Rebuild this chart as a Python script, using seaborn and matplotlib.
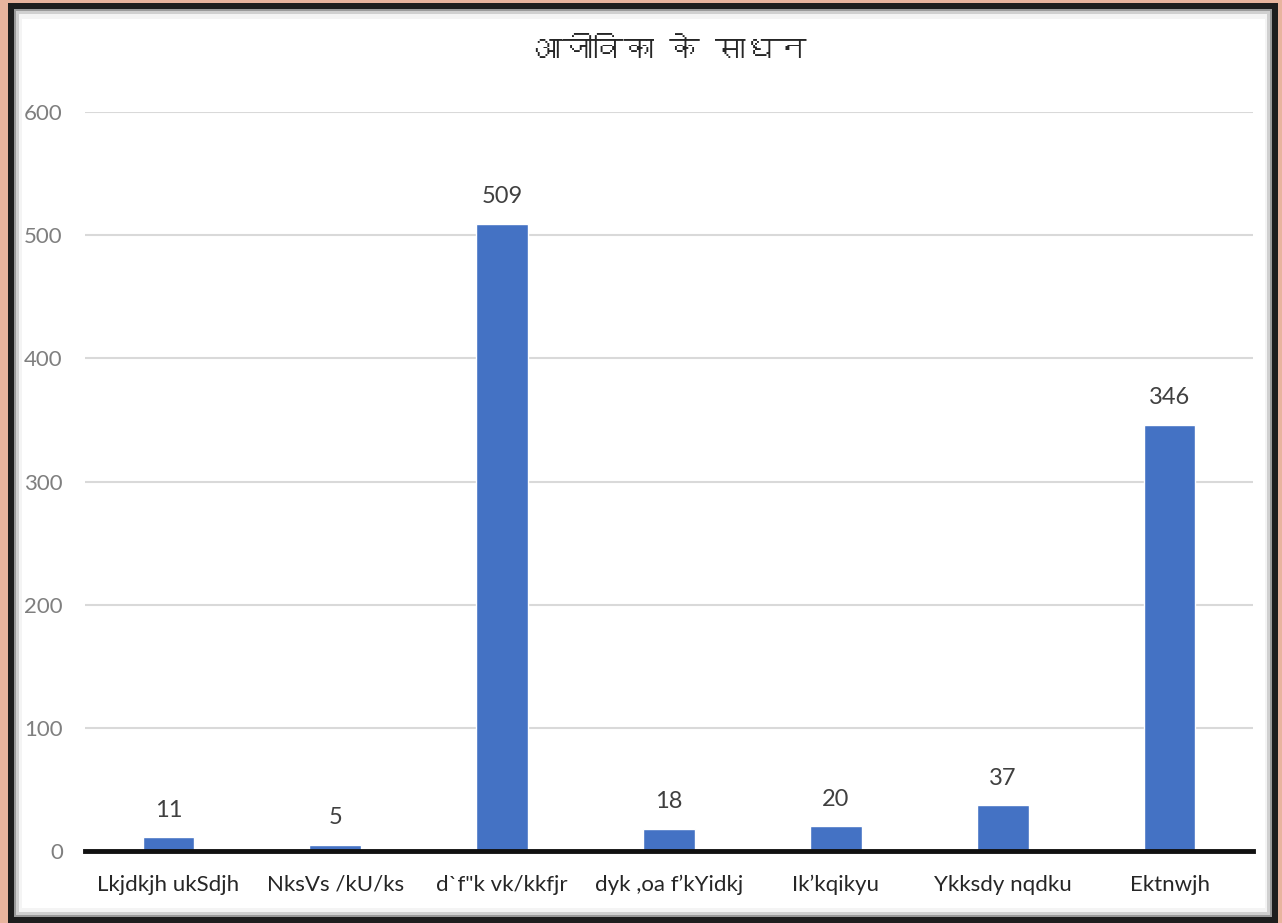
import matplotlib
matplotlib.use("Agg")
import matplotlib.pyplot as plt
from matplotlib import font_manager
from matplotlib.patches import Rectangle
import seaborn as sns
import pandas as pd

categories = ["Lkjdkjh ukSdjh", "NksVs /kU/ks", "d`f\"k vk/kkfjr", "dyk ,oa f\u2019kYidkj",
              "Ik\u2019kqikyu", "Ykksdy nqdku", "Ektnwjh"]
values = [11, 5, 509, 18, 20, 37, 346]
yticks = [0, 100, 200, 300, 400, 500, 600]
title = "आजीविका के साधन"

sns.set_theme(style="white")

# find a font with Devanagari glyphs
deva_family = None
try:
    from matplotlib.ft2font import FT2Font
    for f in font_manager.fontManager.ttflist:
        try:
            ft = FT2Font(f.fname)
            cm = ft.get_charmap()
            if 0x0906 in cm and 0x0927 in cm:
                deva_family = f.name
                break
        except Exception:
            pass
except Exception:
    pass

base = "Lato"
plt.rcParams['font.family'] = [base, 'DejaVu Sans']

fig = plt.figure(figsize=(12.82, 9.23), dpi=100)
fig.patch.set_facecolor("#E8B49E")
W, H = 1282, 923
def px(x, y, w, h):
    return (x / W, 1 - (y + h) / H, w / W, h / H)
for (x, y, w, h, c) in [(8, 3, 1270, 920, "#1e1e1e"),
                        (14, 9, 1258, 908, "#9a9a9a"),
                        (16, 11, 1254, 904, "#d0d0d0"),
                        (19, 14, 1248, 898, "#f4f4f4"),
                        (22, 19, 1243, 889, "#ffffff")]:
    l, b, ww, hh = px(x, y, w, h)
    fig.add_artist(Rectangle((l, b), ww, hh, transform=fig.transFigure,
                             facecolor=c, edgecolor="none", zorder=-10))

ax = fig.add_axes([85 / W, 1 - 851 / H, (1253 - 85) / W, (851 - 112) / H])
ax.set_facecolor("none")
df = pd.DataFrame({"cat": categories, "val": values})
sns.barplot(data=df, x="cat", y="val", color="#4472C4", width=0.31, ax=ax,
            saturation=1, zorder=3)
ax.set_xlim(-0.5, len(categories) - 0.5)
ax.set_ylim(0, 600)
ax.set_yticks(yticks)
ax.set_yticklabels([str(t) for t in yticks])
ax.set_xlabel("")
ax.set_ylabel("")
ax.yaxis.grid(True, color="#d9d9d9", linewidth=1.5, zorder=0)
ax.xaxis.grid(False)
for s in ["top", "right", "left"]:
    ax.spines[s].set_visible(False)
ax.spines["bottom"].set_color("#111111")
ax.spines["bottom"].set_linewidth(3.5)
ax.spines["bottom"].set_zorder(5)
ax.tick_params(axis="y", length=0, pad=16, labelsize=16, labelcolor="#7f7f7f")
ax.tick_params(axis="x", length=0, pad=17, labelsize=16, labelcolor="#262626")
for c in ax.containers:
    ax.bar_label(c, labels=[str(v) for v in values], padding=12, fontsize=17,
                 color="#404040")

tfam = [deva_family, base, 'DejaVu Sans'] if deva_family else [base, 'DejaVu Sans']
fig.text(0.5 * (85 + 1253) / W, 1 - 50 / H, title, ha="center", va="center",
         fontsize=22, color="#262626", family=tfam)

fig.savefig("out.png", dpi=100, facecolor=fig.get_facecolor())
